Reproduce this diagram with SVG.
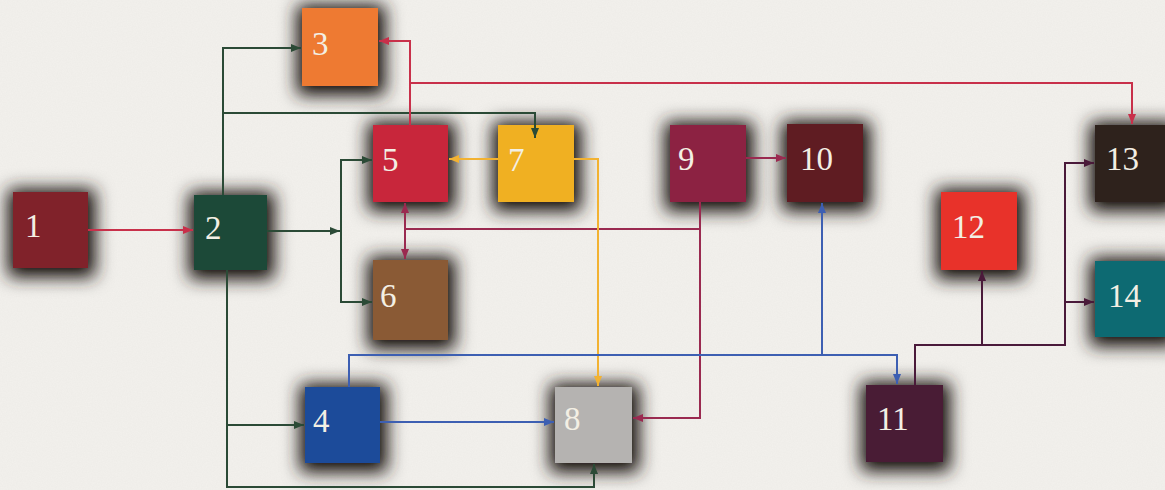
<svg xmlns="http://www.w3.org/2000/svg" width="1165" height="490" viewBox="0 0 1165 490">
  <defs>
    <filter id="shadow" x="-60%" y="-60%" width="220%" height="220%">
      <feMorphology in="SourceAlpha" operator="dilate" radius="6" result="d"/>
      <feGaussianBlur in="d" stdDeviation="9" result="b"/>
      <feOffset in="b" dx="1" dy="3" result="o"/>
      <feComponentTransfer in="o" result="s"><feFuncA type="linear" slope="1.15"/></feComponentTransfer>
      <feFlood flood-color="#2a2420" result="f"/>
      <feComposite in="f" in2="s" operator="in" result="sc"/>
      <feMerge><feMergeNode in="sc"/><feMergeNode in="SourceGraphic"/></feMerge>
    </filter>
    <filter id="grain" x="0" y="0" width="100%" height="100%">
      <feTurbulence type="fractalNoise" baseFrequency="0.8" numOctaves="2" seed="3" result="n"/>
      <feColorMatrix in="n" type="matrix" values="0 0 0 0 0.55  0 0 0 0 0.55  0 0 0 0 0.52  0 0 0 0.12 0"/>
    </filter>
    <marker id="ag" viewBox="0 0 10 8" refX="10" refY="4" markerWidth="10" markerHeight="8" markerUnits="userSpaceOnUse" orient="auto"><path d="M0,0 L10,4 L0,8 z" fill="#2b4a36"/></marker>
    <marker id="ar" viewBox="0 0 10 8" refX="10" refY="4" markerWidth="10" markerHeight="8" markerUnits="userSpaceOnUse" orient="auto"><path d="M0,0 L10,4 L0,8 z" fill="#c8304a"/></marker>
    <marker id="am" viewBox="0 0 10 8" refX="10" refY="4" markerWidth="10" markerHeight="8" markerUnits="userSpaceOnUse" orient="auto"><path d="M0,0 L10,4 L0,8 z" fill="#9a2a50"/></marker>
    <marker id="aa" viewBox="0 0 10 8" refX="10" refY="4" markerWidth="10" markerHeight="8" markerUnits="userSpaceOnUse" orient="auto"><path d="M0,0 L10,4 L0,8 z" fill="#f2b232"/></marker>
    <marker id="ab" viewBox="0 0 10 8" refX="10" refY="4" markerWidth="10" markerHeight="8" markerUnits="userSpaceOnUse" orient="auto"><path d="M0,0 L10,4 L0,8 z" fill="#3d5fb2"/></marker>
    <marker id="ap" viewBox="0 0 10 8" refX="10" refY="4" markerWidth="10" markerHeight="8" markerUnits="userSpaceOnUse" orient="auto"><path d="M0,0 L10,4 L0,8 z" fill="#4a1a3a"/></marker>
  </defs>
  <style>
    .box { filter: url(#shadow); }
    .lbl { font-family: "Liberation Serif", "DejaVu Serif", serif; font-size: 33px; fill: #f3efe4; }
    .c { fill: none; stroke-width: 2; }
    .g { stroke: #2b4a36; }
    .r { stroke: #c8304a; }
    .m { stroke: #9a2a50; }
    .a { stroke: #f2b232; }
    .b { stroke: #3d5fb2; }
    .p { stroke: #4a1a3a; }
  </style>
  <rect width="1165" height="490" fill="#f3f1ed"/>
  <rect width="1165" height="490" filter="url(#grain)"/>

  <g id="node1"><rect class="box" x="13" y="192" width="75" height="76" fill="#80222a"/><text class="lbl" x="25" y="237">1</text></g>
  <g id="node2"><rect class="box" x="194" y="195" width="73" height="75" fill="#1f4a38"/><text class="lbl" x="205" y="239">2</text></g>
  <g id="node3"><rect class="box" x="302" y="8" width="76" height="78" fill="#ee7a30"/><text class="lbl" x="312" y="55">3</text></g>
  <g id="node4"><rect class="box" x="305" y="387" width="75" height="76" fill="#1f4c9a"/><text class="lbl" x="313" y="432">4</text></g>
  <g id="node5"><rect class="box" x="373" y="125" width="75" height="77" fill="#c8283a"/><text class="lbl" x="382" y="171">5</text></g>
  <g id="node6"><rect class="box" x="373" y="260" width="75" height="80" fill="#8a5a36"/><text class="lbl" x="380" y="307">6</text></g>
  <g id="node7"><rect class="box" x="498" y="125" width="76" height="77" fill="#f0b020"/><text class="lbl" x="508" y="171">7</text></g>
  <g id="node8"><rect class="box" x="555" y="387" width="77" height="76" fill="#b5b3b1"/><text class="lbl" x="564" y="430">8</text></g>
  <g id="node9"><rect class="box" x="670" y="125" width="76" height="77" fill="#8c2242"/><text class="lbl" x="678" y="170">9</text></g>
  <g id="node10"><rect class="box" x="787" y="124" width="76" height="78" fill="#5e1e20"/><text class="lbl" x="800" y="170">10</text></g>
  <g id="node11"><rect class="box" x="866" y="385" width="77" height="77" fill="#4a1e36"/><text class="lbl" x="877" y="430">11</text></g>
  <g id="node12"><rect class="box" x="941" y="192" width="76" height="78" fill="#e8302a"/><text class="lbl" x="952" y="238">12</text></g>
  <g id="node13"><rect class="box" x="1095" y="125" width="75" height="77" fill="#2e201e"/><text class="lbl" x="1106" y="170">13</text></g>
  <g id="node14"><rect class="box" x="1095" y="261" width="75" height="76" fill="#106a72"/><text class="lbl" x="1108" y="307">14</text></g>

  <g id="connectors">
    <path class="c g" d="M223,195 V48 H301" marker-end="url(#ag)"/>
    <path class="c g" d="M223,113 H535 V138" marker-end="url(#ag)"/>
    <path class="c g" d="M267,231 H340" marker-end="url(#ag)"/>
    <path class="c g" d="M341,159 V303"/>
    <path class="c g" d="M341,160 H372" marker-end="url(#ag)"/>
    <path class="c g" d="M341,302 H372" marker-end="url(#ag)"/>
    <path class="c g" d="M227,270 V487 H594 V464" marker-end="url(#ag)"/>
    <path class="c g" d="M227,425 H304" marker-end="url(#ag)"/>

    <path class="c r" d="M88,230 H193" marker-end="url(#ar)"/>
    <path class="c r" d="M410,125 V41 H379" marker-end="url(#ar)"/>
    <path class="c r" d="M410,83 H1132 V124" marker-end="url(#ar)"/>

    <path class="c m" d="M746,158 H786" marker-end="url(#am)"/>
    <path class="c m" d="M700,202 V418 H633" marker-end="url(#am)"/>
    <path class="c m" d="M700,229 H405"/>
    <path class="c m" d="M405,229 V203" marker-end="url(#am)"/>
    <path class="c m" d="M405,229 V259" marker-end="url(#am)"/>

    <path class="c a" d="M498,159 H449" marker-end="url(#aa)"/>
    <path class="c a" d="M574,159 H598 V386" marker-end="url(#aa)"/>

    <path class="c b" d="M380,422 H554" marker-end="url(#ab)"/>
    <path class="c b" d="M349,387 V355 H897 V384" marker-end="url(#ab)"/>
    <path class="c b" d="M822,355 V203" marker-end="url(#ab)"/>

    <path class="c p" d="M915,385 V345 H1065 V163 H1094" marker-end="url(#ap)"/>
    <path class="c p" d="M982,345 V271" marker-end="url(#ap)"/>
    <path class="c p" d="M1065,302 H1094" marker-end="url(#ap)"/>
  </g>
</svg>
